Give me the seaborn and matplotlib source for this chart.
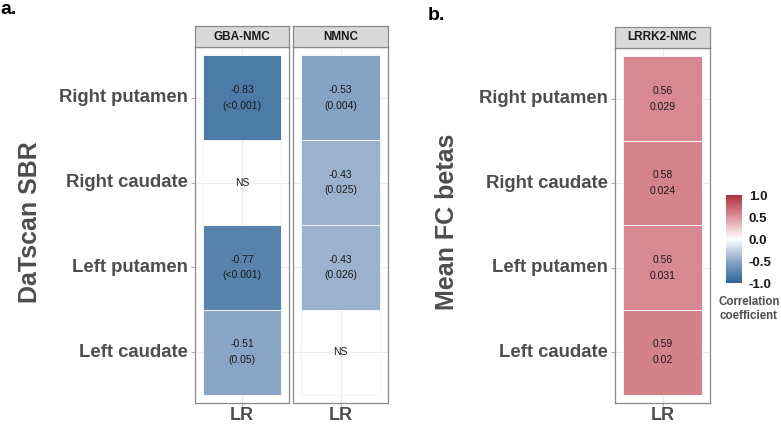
import numpy as np
import pandas as pd
import matplotlib
matplotlib.use("Agg")
import matplotlib.pyplot as plt
import seaborn as sns
from matplotlib.colors import LinearSegmentedColormap

regions = ["Right putamen", "Right caudate", "Left putamen", "Left caudate"]

gba_r = [-0.83, np.nan, -0.77, -0.51]
gba_p = ["<0.001", None, "<0.001", "0.05"]
nmnc_r = [-0.53, -0.43, -0.43, np.nan]
nmnc_p = ["0.004", "0.025", "0.026", None]
lrrk2_r = [0.56, 0.58, 0.56, 0.59]
lrrk2_p = ["0.029", "0.024", "0.031", "0.02"]

cbar_ticks = [-1.0, -0.5, 0.0, 0.5, 1.0]

plt.rcParams['font.family'] = ['Liberation Sans', 'DejaVu Sans']

GREY_TXT = "#4d4d4d"
cmap = LinearSegmentedColormap.from_list(
    "corr", [(0.0, "#2b6596"), (0.25, "#8ba7c6"), (0.5, "#ffffff"),
             (0.75, "#dc949b"), (1.0, "#b0303f")])

W, H = 781, 428


def fig_rect(x0, y0, x1, y1):
    return [x0 / W, 1 - y1 / H, (x1 - x0) / W, (y1 - y0) / H]


def make_labels(r, p, paren):
    out = []
    for rv, pv in zip(r, p):
        if pv is None:
            out.append("")
        elif paren:
            out.append(f"{rv:g}\n({pv})")
        else:
            out.append(f"{rv:g}\n{pv}")
    return np.array(out).reshape(-1, 1)


def draw_panel(fig, rect, strip_rect, title, r, p, paren, show_y, cax=None):
    ax = fig.add_axes(rect)
    df = pd.DataFrame({"LR": r}, index=regions)
    sns.heatmap(df, ax=ax, cmap=cmap, vmin=-1, vmax=1,
                annot=make_labels(r, p, paren), fmt="",
                annot_kws={"color": "#1a1a1a", "fontsize": 7.5, "linespacing": 1.7},
                linewidths=0.6, linecolor="#f4f4f4",
                cbar=cax is not None, cbar_ax=cax,
                cbar_kws={"ticks": cbar_ticks} if cax is not None else None,
                xticklabels=["LR"], yticklabels=regions)
    # NS for non-significant cells
    for i, rv in enumerate(r):
        if np.isnan(rv):
            ax.text(0.5, i + 0.5, "NS", ha="center", va="center",
                    fontsize=7.5, color="#1a1a1a")
    ax.set_xlim(-0.1, 1.1)
    ax.set_ylim(len(regions) + 0.1, -0.1)
    ax.set_xlabel("")
    ax.set_ylabel("")
    ax.set_axisbelow(True)
    ax.grid(True, color="#ebebeb", lw=0.8)
    for s in ax.spines.values():
        s.set_visible(True)
        s.set_color("#8a8a8a")
        s.set_linewidth(0.9)
    ax.tick_params(axis="x", length=2.5, color="#b0b0b0", labelsize=13,
                   labelcolor=GREY_TXT, pad=0.5)
    for t in ax.get_xticklabels():
        t.set_fontweight("bold")
        t.set_rotation(0)
    if show_y:
        ax.tick_params(axis="y", length=3, color="#b0b0b0", labelsize=13.3,
                       labelcolor=GREY_TXT, pad=2)
        for t in ax.get_yticklabels():
            t.set_fontweight("bold")
            t.set_rotation(0)
    else:
        ax.tick_params(axis="y", left=False, labelleft=False)

    sax = fig.add_axes(strip_rect)
    sax.set_facecolor("#d9d9d9")
    sax.set_xticks([])
    sax.set_yticks([])
    for s in sax.spines.values():
        s.set_color("#8a8a8a")
        s.set_linewidth(0.9)
    sax.text(0.5, 0.5, title, ha="center", va="center", fontsize=8.5,
             fontweight="bold", color="#1a1a1a", transform=sax.transAxes)
    return ax


fig = plt.figure(figsize=(7.81, 4.28), dpi=100)

draw_panel(fig, fig_rect(195, 47, 289, 403), fig_rect(195, 26, 289, 47),
           "GBA-NMC", gba_r, gba_p, True, True)
draw_panel(fig, fig_rect(293, 47, 388, 403), fig_rect(293, 26, 388, 47),
           "NMNC", nmnc_r, nmnc_p, True, False)

cax = fig.add_axes(fig_rect(726, 195, 742, 283))
ax_b = draw_panel(fig, fig_rect(615, 48, 710, 403), fig_rect(615, 27, 710, 48),
                  "LRRK2-NMC", lrrk2_r, lrrk2_p, False, True, cax=cax)

cbar = ax_b.collections[0].colorbar
cbar.outline.set_visible(False)
cbar.set_ticks(cbar_ticks)
cbar.set_ticklabels([f"{t:.1f}" for t in cbar_ticks])
cax.tick_params(length=0, labelsize=9.5, labelcolor="#1a1a1a", pad=5)
for t in cax.get_yticklabels():
    t.set_fontweight("bold")

fig.text(749 / W, 1 - 296 / H, "Correlation\ncoefficient", ha="center", va="top",
         fontsize=8.3, fontweight="bold", color=GREY_TXT, linespacing=1.25,
         multialignment="center")

fig.text(30 / W, 1 - 222 / H, "DaTscan SBR", rotation=90, ha="center",
         va="center", fontsize=18, fontweight="bold", color=GREY_TXT)
fig.text(447 / W, 1 - 222 / H, "Mean FC betas", rotation=90, ha="center",
         va="center", fontsize=18, fontweight="bold", color=GREY_TXT)

fig.text(0 / W, 1 - 10 / H, "a.", ha="left", va="center", fontsize=14,
         fontweight="bold", color="black")
fig.text(428 / W, 1 - 16 / H, "b.", ha="left", va="center", fontsize=14,
         fontweight="bold", color="black")

fig.savefig("out.png", dpi=100)
